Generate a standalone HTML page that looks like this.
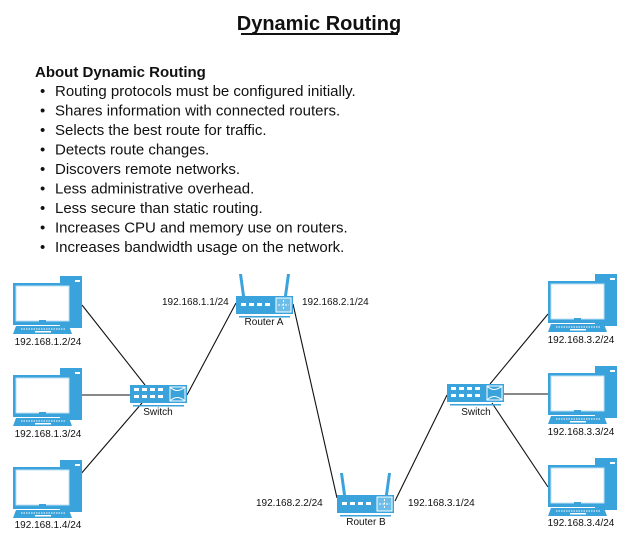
<!DOCTYPE html>
<html><head><meta charset="utf-8"><style>
body{margin:0;background:#fff;width:629px;height:541px;overflow:hidden}
svg text{font-family:"Liberation Sans",sans-serif;fill:#111}
</style></head><body>
<svg width="629" height="541" viewBox="0 0 629 541" xmlns="http://www.w3.org/2000/svg">
<defs>
<g id="pc">
  <rect x="47" y="0" width="22" height="52" fill="#3aa3dc"/>
  <rect x="62" y="4" width="5" height="2" fill="#fff"/>
  <rect x="0" y="7" width="59" height="42" fill="#3aa3dc"/>
  <rect x="3" y="10" width="53" height="35" fill="#fff"/>
  <rect x="3" y="10" width="53" height="35" fill="none" stroke="#bfe0f3" stroke-width="1"/>
  <rect x="26" y="44" width="7" height="5" fill="#3aa3dc"/>
  <polygon points="3,50 56,50 59,58 0,58" fill="#3aa3dc"/>
  <line x1="8" y1="53" x2="52" y2="53" stroke="#fff" stroke-width="1" stroke-dasharray="1.5,1"/>
  <rect x="22" y="55" width="16" height="1.5" fill="#fff"/>
</g>
<g id="sw">
  <rect x="0" y="0" width="57" height="18" fill="#3aa3dc"/>
  <g fill="#fff">
    <rect x="4" y="3" width="5" height="3"/><rect x="12" y="3" width="5" height="3"/><rect x="20" y="3" width="5" height="3"/><rect x="28" y="3" width="5" height="3"/>
    <rect x="4" y="10" width="5" height="3"/><rect x="12" y="10" width="5" height="3"/><rect x="20" y="10" width="5" height="3"/><rect x="28" y="10" width="5" height="3"/>
  </g>
  <rect x="40" y="2" width="15" height="14" fill="none" stroke="#fff" stroke-width="1"/>
  <path d="M40,2 Q47,9 55,2 M40,16 Q47,9 55,16" fill="none" stroke="#fff" stroke-width="1"/>
  <rect x="3" y="20" width="51" height="1.5" fill="#3aa3dc"/>
</g>
<g id="rt">
  <polygon points="3,-22 6,-22 9,0 6,0" fill="#3aa3dc"/>
  <polygon points="51,-22 54,-22 51,0 48,0" fill="#3aa3dc"/>
  <rect x="0" y="0" width="57" height="18" fill="#3aa3dc"/>
  <g fill="#fff">
    <rect x="5" y="7" width="5" height="3"/><rect x="13" y="7" width="5" height="3"/><rect x="21" y="7" width="5" height="3"/><rect x="29" y="7" width="5" height="3"/>
  </g>
  <rect x="40" y="2" width="15" height="14" fill="#6cbde8" stroke="#fff" stroke-width="1"/>
  <path d="M47.5,4 V14 M42,9 H53" stroke="#fff" stroke-width="1" stroke-dasharray="2,1.5"/>
  <rect x="3" y="20" width="51" height="1.5" fill="#3aa3dc"/>
</g>
</defs>

<text x="319" y="30" text-anchor="middle" font-size="20" font-weight="bold">Dynamic Routing</text>
<rect x="241" y="33" width="157" height="2" fill="#111"/>

<text x="35" y="77" font-size="15" font-weight="bold">About Dynamic Routing</text>
<g font-size="15">
<text x="40" y="96">•</text><text x="55" y="96">Routing protocols must be configured initially.</text>
<text x="40" y="115.5">•</text><text x="55" y="115.5">Shares information with connected routers.</text>
<text x="40" y="135">•</text><text x="55" y="135">Selects the best route for traffic.</text>
<text x="40" y="154.5">•</text><text x="55" y="154.5">Detects route changes.</text>
<text x="40" y="174">•</text><text x="55" y="174">Discovers remote networks.</text>
<text x="40" y="193.5">•</text><text x="55" y="193.5">Less administrative overhead.</text>
<text x="40" y="213">•</text><text x="55" y="213">Less secure than static routing.</text>
<text x="40" y="232.5">•</text><text x="55" y="232.5">Increases CPU and memory use on routers.</text>
<text x="40" y="252">•</text><text x="55" y="252">Increases bandwidth usage on the network.</text>
</g>

<g stroke="#111" stroke-width="1.1">
<line x1="82" y1="305" x2="145" y2="385"/>
<line x1="82" y1="395" x2="130" y2="395"/>
<line x1="80" y1="475" x2="142" y2="403"/>
<line x1="187" y1="395" x2="236" y2="303"/>
<line x1="293" y1="304" x2="337" y2="498"/>
<line x1="395" y1="501" x2="447" y2="395"/>
<line x1="490" y1="384" x2="548" y2="314"/>
<line x1="504" y1="394" x2="548" y2="394"/>
<line x1="492" y1="403" x2="548" y2="487"/>
</g>

<use href="#pc" x="13" y="276"/>
<use href="#pc" x="13" y="368"/>
<use href="#pc" x="13" y="460"/>
<use href="#pc" x="548" y="274"/>
<use href="#pc" x="548" y="366"/>
<use href="#pc" x="548" y="458"/>

<use href="#sw" x="130" y="385"/>
<use href="#sw" x="447" y="384"/>
<use href="#rt" x="236" y="296"/>
<use href="#rt" x="337" y="495"/>

<g font-size="10">
<text x="48" y="345" text-anchor="middle">192.168.1.2/24</text>
<text x="48" y="437" text-anchor="middle">192.168.1.3/24</text>
<text x="48" y="528" text-anchor="middle">192.168.1.4/24</text>
<text x="581" y="343" text-anchor="middle">192.168.3.2/24</text>
<text x="581" y="435" text-anchor="middle">192.168.3.3/24</text>
<text x="581" y="526" text-anchor="middle">192.168.3.4/24</text>
<text x="158" y="415" text-anchor="middle">Switch</text>
<text x="476" y="415" text-anchor="middle">Switch</text>
<text x="264" y="325" text-anchor="middle">Router A</text>
<text x="366" y="525" text-anchor="middle">Router B</text>
<text x="162" y="305">192.168.1.1/24</text>
<text x="302" y="305">192.168.2.1/24</text>
<text x="256" y="506">192.168.2.2/24</text>
<text x="408" y="506">192.168.3.1/24</text>
</g>
</svg>
</body></html>
